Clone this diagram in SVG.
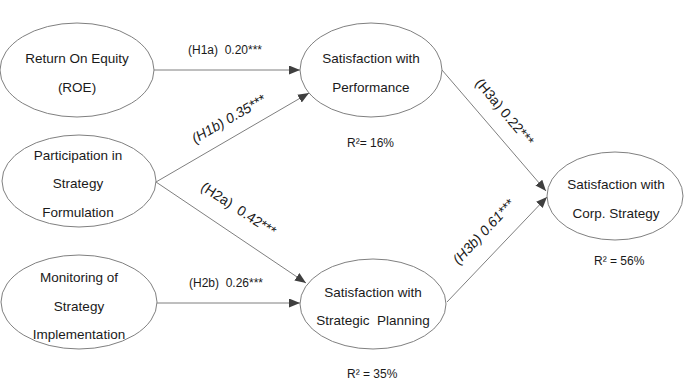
<svg xmlns="http://www.w3.org/2000/svg" width="685" height="383" viewBox="0 0 685 383">
<style>
.node ellipse{fill:#ffffff;stroke:#808080;stroke-width:1}
.nt{font-family:"Liberation Sans",Arial,sans-serif;font-size:13.5px;fill:#1a1a1a;text-anchor:middle}
.el{font-family:"Liberation Sans",Arial,sans-serif;font-size:12px;fill:#1a1a1a}
.rl{font-family:"Liberation Sans",Arial,sans-serif;font-size:14px;fill:#1a1a1a;text-anchor:middle}
.it{font-style:italic}
.r2{font-family:"Liberation Sans",Arial,sans-serif;font-size:12px;fill:#1a1a1a}
#connectors line{stroke:#7f7f7f;stroke-width:1;marker-end:url(#arr)}
</style>
<defs>
<marker id="arr" markerUnits="userSpaceOnUse" markerWidth="12" markerHeight="10" refX="11" refY="4.5" orient="auto">
<path d="M0,0 L11,4.5 L0,9 z" fill="#3f3f3f"/>
</marker>
</defs>
<rect width="685" height="383" fill="#ffffff"/>
<g id="connectors">
<line x1="154" y1="70" x2="300" y2="70"/>
<line x1="156" y1="182" x2="309" y2="93"/>
<line x1="156" y1="182" x2="306" y2="283"/>
<line x1="157" y1="303" x2="300" y2="303"/>
<line x1="442" y1="70" x2="546" y2="191"/>
<line x1="447" y1="302" x2="547" y2="197"/>
</g>
<g id="edge-labels">
<text class="el" x="188" y="54" xml:space="preserve">(H1a)  0.20***</text>
<text class="rl it" transform="translate(231 123) rotate(-30)">(H1b) 0.35***</text>
<text class="rl" transform="translate(236 213) rotate(33)" xml:space="preserve">(H2a)  0.42***</text>
<text class="el" x="189" y="287" xml:space="preserve">(H2b)  0.26***</text>
<text class="rl" transform="translate(501 115) rotate(50)">(H3a) 0.22***</text>
<text class="rl it" transform="translate(487 235) rotate(-47)">(H3b) 0.61***</text>
</g>
<g id="roe" class="node">
<ellipse cx="77" cy="70" rx="77" ry="47"/>
<text class="nt" x="77" y="63">Return On Equity</text>
<text class="nt" x="77" y="92">(ROE)</text>
</g>
<g id="participation" class="node">
<ellipse cx="79" cy="181" rx="77" ry="46"/>
<text class="nt" x="78" y="160">Participation in</text>
<text class="nt" x="78" y="188">Strategy</text>
<text class="nt" x="78" y="217">Formulation</text>
</g>
<g id="monitoring" class="node">
<ellipse cx="79" cy="302" rx="78" ry="47"/>
<text class="nt" x="79" y="282">Monitoring of</text>
<text class="nt" x="79" y="311">Strategy</text>
<text class="nt" x="79" y="339">Implementation</text>
</g>
<g id="performance" class="node">
<ellipse cx="371" cy="70" rx="71" ry="47"/>
<text class="nt" x="371" y="63">Satisfaction with</text>
<text class="nt" x="371" y="92">Performance</text>
<text class="r2" x="347" y="147">R²= 16%</text>
</g>
<g id="planning" class="node">
<ellipse cx="373" cy="304" rx="73" ry="45"/>
<text class="nt" x="373" y="297" xml:space="preserve">Satisfaction with</text>
<text class="nt" x="373" y="325" xml:space="preserve">Strategic  Planning</text>
<text class="r2" x="347" y="378">R² = 35%</text>
</g>
<g id="corp" class="node">
<ellipse cx="615" cy="196" rx="68" ry="44"/>
<text class="nt" x="616" y="189">Satisfaction with</text>
<text class="nt" x="616" y="218">Corp. Strategy</text>
<text class="r2" x="594" y="265">R² = 56%</text>
</g>
</svg>
